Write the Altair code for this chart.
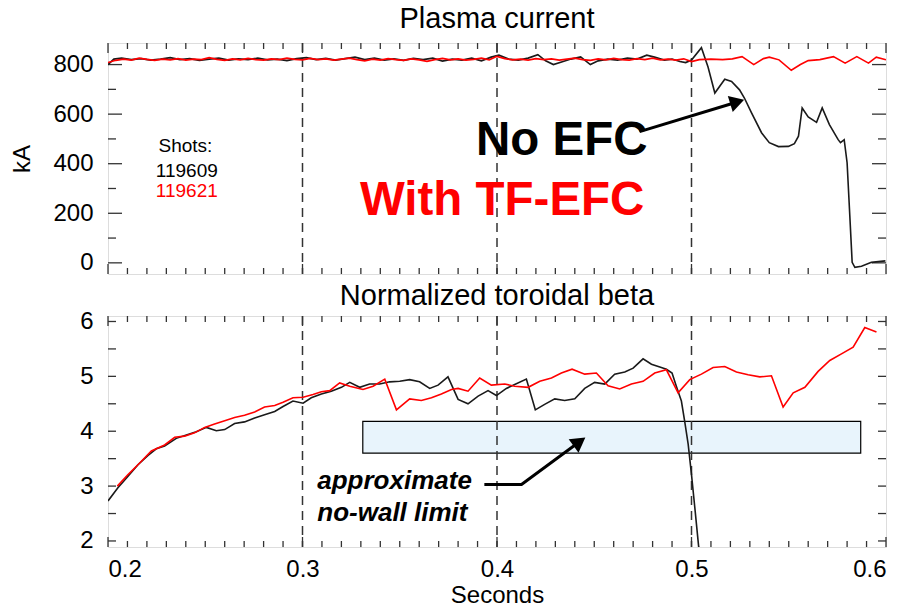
import altair as alt
import pandas as pd

FONT = "Liberation Sans"
FRAME = "#333333"
W, H1, H2 = 778, 231, 231

# ---------------- data ----------------
# Plasma current (kA)
ip_black_t = [0.200, 0.203, 0.207, 0.212, 0.217, 0.222, 0.227, 0.232, 0.237, 0.242, 0.247, 0.252,
              0.257, 0.262, 0.267, 0.272, 0.277, 0.282, 0.287, 0.292, 0.297, 0.302, 0.307, 0.312,
              0.317, 0.322, 0.327, 0.332, 0.337, 0.342, 0.347, 0.352, 0.357, 0.362, 0.367, 0.372,
              0.377, 0.382, 0.387, 0.392, 0.397, 0.401, 0.406, 0.411, 0.416, 0.421, 0.425, 0.429,
              0.434, 0.438, 0.443, 0.448, 0.452, 0.457, 0.462, 0.467, 0.472, 0.477, 0.481, 0.486,
              0.490, 0.494, 0.497, 0.500, 0.5051, 0.5085, 0.512, 0.5171, 0.5206, 0.5247, 0.5272,
              0.5308, 0.5360, 0.5400, 0.5447, 0.5498, 0.5529, 0.5550, 0.5569, 0.5600, 0.5643,
              0.5672, 0.5709, 0.5754, 0.5766, 0.5785, 0.5800, 0.5814, 0.5826, 0.5840, 0.5874,
              0.5925, 0.5997]
ip_black_v = [800, 822, 826, 820, 824, 818, 822, 828, 820, 824, 817, 822,
              826, 818, 823, 820, 826, 819, 822, 816, 824, 828, 820, 825,
              818, 824, 830, 820, 826, 818, 823, 817, 825, 820, 826, 814,
              822, 818, 826, 815, 830, 838, 822, 818, 826, 840, 815, 800,
              812, 822, 831, 800, 815, 822, 818, 826, 822, 838, 830, 818,
              822, 812, 808, 818, 868, 790, 685, 741, 732, 698, 665,
              606, 525, 485, 469, 470, 481, 511, 625, 589, 567,
              625, 558, 497, 485, 497, 404, 189, 2, -18, -14,
              2, 8]
ip_red_t = [0.200, 0.204, 0.208, 0.212, 0.216, 0.220, 0.224, 0.228, 0.232, 0.236, 0.240, 0.244,
            0.248, 0.252, 0.256, 0.260, 0.264, 0.268, 0.272, 0.276, 0.280, 0.284, 0.288, 0.292,
            0.296, 0.300, 0.304, 0.308, 0.312, 0.316, 0.320, 0.324, 0.328, 0.332, 0.336, 0.340,
            0.344, 0.348, 0.352, 0.356, 0.360, 0.364, 0.368, 0.372, 0.376, 0.380, 0.384, 0.388,
            0.392, 0.396, 0.400, 0.404, 0.408, 0.412, 0.416, 0.420, 0.424, 0.428, 0.432, 0.436,
            0.440, 0.444, 0.448, 0.452, 0.456, 0.460, 0.464, 0.468, 0.472, 0.476, 0.480, 0.484,
            0.488, 0.492, 0.496, 0.500, 0.504, 0.510, 0.516, 0.521, 0.526, 0.532, 0.537, 0.540,
            0.545, 0.5513, 0.556, 0.560, 0.566, 0.573, 0.579, 0.585, 0.591, 0.595, 0.600]
ip_red_v = [808, 817, 822, 818, 826, 821, 817, 822, 819, 824, 818, 822,
            820, 828, 821, 817, 823, 819, 825, 820, 818, 823, 820, 826,
            821, 819, 825, 820, 823, 818, 822, 826, 820, 815, 822, 818,
            824, 820, 817, 823, 819, 813, 820, 825, 819, 823, 818, 821,
            826, 819, 833, 824, 819, 822, 818, 824, 820, 823, 818, 822,
            826, 820, 817, 823, 819, 825, 820, 818, 824, 820, 826, 819,
            822, 818, 823, 812, 820, 822, 820, 823, 832, 800, 824, 830,
            819, 777, 800, 816, 820, 832, 806, 832, 806, 830, 819]

# Normalized toroidal beta
bn_black_t = [0.2000, 0.2051, 0.2103, 0.2154, 0.2206, 0.2248, 0.2291, 0.2351, 0.2403, 0.2454,
              0.2506, 0.2557, 0.2600, 0.2651, 0.2702, 0.2754, 0.2805, 0.2857, 0.2900, 0.2951,
              0.3003, 0.3045, 0.3097, 0.3148, 0.3200, 0.3243, 0.3294, 0.3345, 0.3397, 0.3448,
              0.3500, 0.3551, 0.3602, 0.3654, 0.3697, 0.3748, 0.3800, 0.3851, 0.3903, 0.3954,
              0.3997, 0.4048, 0.4091, 0.4151, 0.4197, 0.4245, 0.4297, 0.4348, 0.4400, 0.4451,
              0.4502, 0.4554, 0.4605, 0.4657, 0.4700, 0.4751, 0.4794, 0.4837, 0.4871, 0.4900,
              0.4922, 0.4948, 0.4965, 0.4983, 0.5000, 0.5017, 0.5037, 0.5050]
bn_black_v = [2.73, 2.97, 3.18, 3.39, 3.56, 3.68, 3.73, 3.87, 3.93, 3.99,
              4.07, 4.01, 4.03, 4.14, 4.17, 4.24, 4.30, 4.36, 4.45, 4.55,
              4.51, 4.61, 4.68, 4.73, 4.80, 4.89, 4.80, 4.86, 4.86, 4.90,
              4.91, 4.94, 4.90, 4.78, 4.84, 4.99, 4.58, 4.50, 4.64, 4.74,
              4.65, 4.78, 4.85, 4.95, 4.39, 4.49, 4.59, 4.56, 4.59, 4.78,
              4.89, 4.86, 5.04, 5.08, 5.15, 5.32, 5.22, 5.17, 5.13, 5.06,
              4.82, 4.55, 4.18, 3.76, 3.21, 2.61, 1.89, 1.65]
bn_red_t = [0.2048, 0.2103, 0.2163, 0.2223, 0.2291, 0.2343, 0.2394, 0.2445, 0.2497, 0.2548,
            0.2600, 0.2651, 0.2702, 0.2754, 0.2805, 0.2857, 0.2900, 0.2951, 0.3003, 0.3054,
            0.3097, 0.3140, 0.3191, 0.3243, 0.3311, 0.3363, 0.3423, 0.3483, 0.3551, 0.3611,
            0.3663, 0.3714, 0.3766, 0.3800, 0.3851, 0.3911, 0.3971, 0.4040, 0.4091, 0.4160,
            0.4220, 0.4280, 0.4331, 0.4386, 0.4451, 0.4511, 0.4571, 0.4631, 0.4691, 0.4751,
            0.4811, 0.4871, 0.4931, 0.4991, 0.5051, 0.5111, 0.5171, 0.5231, 0.5291, 0.5351,
            0.5411, 0.5471, 0.5523, 0.5583, 0.5651, 0.5711, 0.5771, 0.5831, 0.5891, 0.5951]
bn_red_v = [3.00, 3.21, 3.42, 3.64, 3.75, 3.89, 3.91, 3.97, 4.07, 4.13,
            4.19, 4.25, 4.29, 4.35, 4.44, 4.47, 4.53, 4.61, 4.62, 4.67,
            4.72, 4.74, 4.88, 4.82, 4.76, 4.82, 4.95, 4.39, 4.59, 4.56,
            4.61, 4.68, 4.76, 4.78, 4.73, 4.97, 4.84, 4.86, 4.82, 4.80,
            4.91, 4.97, 5.06, 5.13, 5.04, 5.06, 4.83, 4.77, 4.86, 4.91,
            5.06, 5.12, 4.70, 4.94, 5.04, 5.16, 5.18, 5.08, 5.03, 4.99,
            5.01, 4.44, 4.70, 4.80, 5.09, 5.29, 5.41, 5.53, 5.89, 5.81]

phase_lines = [0.3, 0.4, 0.5]
x_labels = [0.2, 0.3, 0.4, 0.5, 0.6]
ip_labels = [0, 200, 400, 600, 800]
bn_labels = [2, 3, 4, 5, 6]

# no-wall limit band
band_x = [0.331, 0.587]
band_y = [3.60, 4.18]

# ---------------- scales / axes ----------------
xs = alt.Scale(domain=[0.2, 0.6], nice=False, zero=False)
ys1 = alt.Scale(domain=[-45, 887], nice=False, zero=False)
ys2 = alt.Scale(domain=[1.89, 6.1], nice=False, zero=False)

ax_x_top = alt.Axis(labels=False, ticks=False, domain=False, grid=False, title=None)
ax_x_bot = alt.Axis(values=x_labels, format=".1f", ticks=False, domain=False, grid=False,
                    title="Seconds", labelFontSize=24, titleFontSize=24, labelPadding=10,
                    titlePadding=2, labelFont=FONT, titleFont=FONT, titleFontWeight="normal",
                    labelColor="black", titleColor="black")
ax_y_top = alt.Axis(values=ip_labels, ticks=False, domain=False, grid=False, title="kA",
                    labelFontSize=24, titleFontSize=24, labelPadding=15, titlePadding=18,
                    labelFont=FONT, titleFont=FONT, titleFontWeight="normal",
                    labelColor="black", titleColor="black")
ax_y_bot = alt.Axis(values=bn_labels, ticks=False, domain=False, grid=False, title=None,
                    labelFontSize=24, labelPadding=15, labelFont=FONT, labelColor="black")


def X(ax):
    return alt.X("t:Q", scale=xs, axis=ax)


def tick_layers(xvals_major, xvals_minor, yvals_major, yvals_minor, yscale, yax, xax, H,
                xlen=(10, 6), ylen=(13, 8)):
    layers = []
    for vals, ln in ((xvals_major, xlen[0]), (xvals_minor, xlen[1])):
        base = alt.Chart(pd.DataFrame({"t": vals})).mark_rule(color=FRAME, strokeWidth=1.3)
        layers.append(base.encode(x=X(xax), y=alt.value(H), y2=alt.value(H - ln)))
        layers.append(base.encode(x=X(xax), y=alt.value(0), y2=alt.value(ln)))
    for vals, ln in ((yvals_major, ylen[0]), (yvals_minor, ylen[1])):
        base = alt.Chart(pd.DataFrame({"v": vals})).mark_rule(color=FRAME, strokeWidth=1.3)
        Y = alt.Y("v:Q", scale=yscale, axis=yax)
        layers.append(base.encode(y=Y, x=alt.value(0), x2=alt.value(ln)))
        layers.append(base.encode(y=Y, x=alt.value(W), x2=alt.value(W - ln)))
    return layers


x_major = [0.2, 0.3, 0.4, 0.5, 0.6]
x_minor = [round(0.2 + 0.01 * i, 2) for i in range(41) if i % 10 != 0]
ip_major = [0, 200, 400, 600, 800]
ip_minor = [100, 300, 500, 700]
bn_major = [2, 3, 4, 5, 6]
bn_minor = [2.5, 3.5, 4.5, 5.5]


def line_layer(t, v, color, yscale, yax, xax, width=1.6):
    df = pd.DataFrame({"t": t, "v": v})
    return alt.Chart(df).mark_line(color=color, strokeWidth=width, clip=True).encode(
        x=X(xax), y=alt.Y("v:Q", scale=yscale, axis=yax))


def vlines(yscale, yax, xax):
    return alt.Chart(pd.DataFrame({"t": phase_lines})).mark_rule(
        color=FRAME, strokeWidth=1.5, strokeDash=[9, 6]).encode(x=X(xax))


def text_layer(t, v, labels, yscale, yax, xax, **kw):
    df = pd.DataFrame({"t": t, "v": v, "s": labels})
    return alt.Chart(df).mark_text(font=FONT, **kw).encode(
        x=X(xax), y=alt.Y("v:Q", scale=yscale, axis=yax), text="s:N")


def arrow(tpts, vpts, head_t, head_v, angle, yscale, yax, xax):
    ldf = pd.DataFrame({"t": tpts, "v": vpts, "o": list(range(len(tpts)))})
    ln = alt.Chart(ldf).mark_line(color="black", strokeWidth=3).encode(
        x=X(xax), y=alt.Y("v:Q", scale=yscale, axis=yax), order="o:Q")
    hd = alt.Chart(pd.DataFrame({"t": [head_t], "v": [head_v]})).mark_point(
        shape="triangle-up", filled=True, size=280, angle=angle, color="black", opacity=1).encode(
        x=X(xax), y=alt.Y("v:Q", scale=yscale, axis=yax))
    return [ln, hd]


# ---------------- top panel ----------------
top_layers = [vlines(ys1, ax_y_top, ax_x_top)]
top_layers += tick_layers(x_major, x_minor, ip_major, ip_minor, ys1, ax_y_top, ax_x_top, H1,
                          ylen=(14, 8))
top_layers += [
    line_layer(ip_black_t, ip_black_v, "#1a1a1a", ys1, ax_y_top, ax_x_top),
    line_layer(ip_red_t, ip_red_v, "#ff0000", ys1, ax_y_top, ax_x_top),
    text_layer([0.2398], [449], ["Shots:"], ys1, ax_y_top, ax_x_top,
               fontSize=19, color="black", align="center", baseline="alphabetic"),
    text_layer([0.2405], [345], ["119609"], ys1, ax_y_top, ax_x_top,
               fontSize=19, color="black", align="center", baseline="alphabetic"),
    text_layer([0.2405], [264], ["119621"], ys1, ax_y_top, ax_x_top,
               fontSize=19, color="#ff0000", align="center", baseline="alphabetic"),
    text_layer([0.4774], [435], ["No EFC"], ys1, ax_y_top, ax_x_top,
               fontSize=47.5, fontWeight="bold", color="black", align="right", baseline="alphabetic"),
    text_layer([0.4758], [192], ["With TF-EFC"], ys1, ax_y_top, ax_x_top,
               fontSize=47.5, fontWeight="bold", color="#ff0000", align="right", baseline="alphabetic"),
]
top_layers += arrow([0.4733, 0.5235], [529.5, 649], 0.5235, 649, 73, ys1, ax_y_top, ax_x_top)

top = alt.layer(*top_layers).properties(
    width=W, height=H1,
    title=alt.TitleParams("Plasma current", fontSize=29, font=FONT, fontWeight="normal",
                          color="black", offset=8, anchor="middle"))

# ---------------- bottom panel ----------------
band = alt.Chart(pd.DataFrame({"t": [band_x[0]], "t2": [band_x[1]],
                               "v": [band_y[0]], "v2": [band_y[1]]})).mark_rect(
    fill="#e8f4fc", stroke="black", strokeWidth=1.2).encode(
    x=X(ax_x_bot), x2="t2:Q", y=alt.Y("v:Q", scale=ys2, axis=ax_y_bot), y2="v2:Q")

bot_layers = [band, vlines(ys2, ax_y_bot, ax_x_bot)]
bot_layers += tick_layers(x_major, x_minor, bn_major, bn_minor, ys2, ax_y_bot, ax_x_bot, H2,
                          ylen=(8, 8))
bot_layers += [
    line_layer(bn_black_t, bn_black_v, "#1a1a1a", ys2, ax_y_bot, ax_x_bot),
    line_layer(bn_red_t, bn_red_v, "#ff0000", ys2, ax_y_bot, ax_x_bot),
    text_layer([0.3076], [2.94], ["approximate"], ys2, ax_y_bot, ax_x_bot,
               fontSize=26, fontWeight="bold", fontStyle="italic", color="black",
               align="left", baseline="alphabetic"),
    text_layer([0.3076], [2.357], ["no-wall limit"], ys2, ax_y_bot, ax_x_bot,
               fontSize=26, fontWeight="bold", fontStyle="italic", color="black",
               align="left", baseline="alphabetic"),
]
bot_layers += arrow([0.3935, 0.4126, 0.4424], [3.03, 3.03, 3.807], 0.4424, 3.807, 54,
                    ys2, ax_y_bot, ax_x_bot)

bottom = alt.layer(*bot_layers).properties(
    width=W, height=H2,
    title=alt.TitleParams("Normalized toroidal beta", fontSize=29, font=FONT, fontWeight="normal",
                          color="black", offset=-2, anchor="middle"))

chart = alt.vconcat(top, bottom, spacing=5, padding={"left": 10, "top": 4, "right": 5, "bottom": 0}
                    ).configure_view(stroke=FRAME, strokeWidth=1.6
                    ).configure(background="white")

chart.save("out.html", embed_options={"renderer": "svg", "actions": False})
